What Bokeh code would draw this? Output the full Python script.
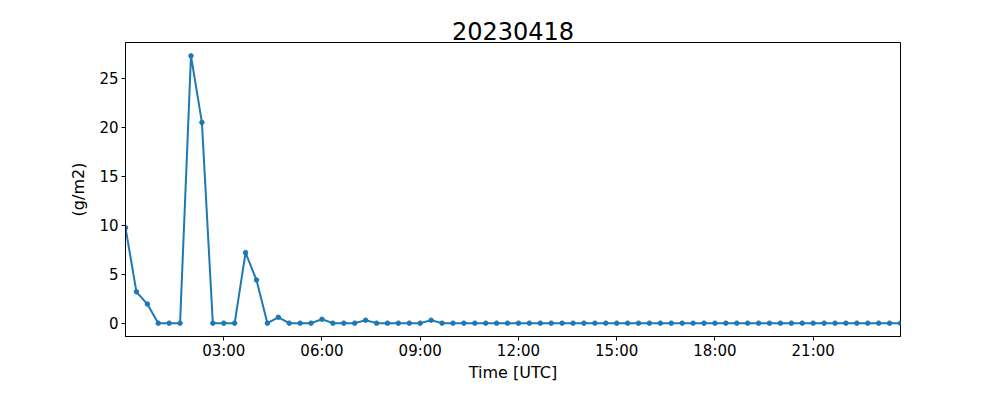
import pandas as pd
from bokeh.plotting import figure
from bokeh.models import Range1d, FixedTicker, DatetimeTickFormatter
from bokeh.embed import file_html
from bokeh.resources import INLINE

# ---- data ----
times = pd.date_range("2023-04-18 00:00", periods=72, freq="20min")
values = [
    9.75, 3.2, 1.95, 0.0, 0.0, 0.0, 27.3, 20.5, 0.0, 0.0, 0.0, 7.2,
    4.4, 0.0, 0.6, 0.0, 0.0, 0.0, 0.4, 0.0, 0.0, 0.0, 0.3, 0.0,
    0.0, 0.0, 0.0, 0.0, 0.3, 0.0, 0.0, 0.0, 0.0, 0.0, 0.0, 0.0,
    0.0, 0.0, 0.0, 0.0, 0.0, 0.0, 0.0, 0.0, 0.0, 0.0, 0.0, 0.0,
    0.0, 0.0, 0.0, 0.0, 0.0, 0.0, 0.0, 0.0, 0.0, 0.0, 0.0, 0.0,
    0.0, 0.0, 0.0, 0.0, 0.0, 0.0, 0.0, 0.0, 0.0, 0.0, 0.0, 0.0,
]
tick_labels = ["03:00", "06:00", "09:00", "12:00", "15:00", "18:00", "21:00"]
y_ticks = [0, 5, 10, 15, 20, 25]
title_text = "20230418"
x_label = "Time [UTC]"
y_label = "(g/m2)"

FONT = "DejaVu Sans"
BLUE = "#1f77b4"

vmax = max(values)
vmin = min(values)
pad = (vmax - vmin) * 0.05

p = figure(
    width=984, height=384,
    x_axis_type="datetime",
    output_backend="svg", toolbar_location=None,
    x_range=Range1d(times[0], times[-1]),
    y_range=Range1d(vmin - pad, vmax + pad),
    min_border_left=125, min_border_right=84,
    min_border_top=42, min_border_bottom=40,
)
p.title.text = title_text
p.title.align = "center"
p.title.text_font = FONT
p.title.text_font_size = "24px"
p.title.text_font_style = "normal"
p.title.text_color = "black"
p.title.offset = 0
p.title.standoff = 6

p.line(times, values, line_color=BLUE, line_width=2)
p.scatter(times, values, size=4.5, fill_color=BLUE, line_color=BLUE)

base = pd.Timestamp("2023-04-18 00:00")
tick_ms = [(base + pd.Timedelta(hours=int(t[:2]))).value / 1e6 for t in tick_labels]
p.xaxis.ticker = FixedTicker(ticks=tick_ms)
p.xaxis.formatter = DatetimeTickFormatter(hours="%H:%M", days="%H:%M", minutes="%H:%M", hourmin="%H:%M")
p.yaxis.ticker = FixedTicker(ticks=y_ticks)

p.xaxis.axis_label = x_label
p.yaxis.axis_label = y_label

for ax in (p.xaxis, p.yaxis):
    ax.axis_label_text_font = FONT
    ax.axis_label_text_font_size = "16px"
    ax.axis_label_text_font_style = "normal"
    ax.axis_label_text_color = "black"
    ax.major_label_text_font = FONT
    ax.major_label_text_font_size = "15px"
    ax.major_label_text_color = "black"
    ax.axis_line_color = "black"
    ax.major_tick_line_color = "black"
    ax.major_tick_in = 0
    ax.major_tick_out = 4
    ax.minor_tick_line_color = None

p.xaxis.major_label_standoff = 1
p.xaxis.axis_label_standoff = 0
p.yaxis.major_label_standoff = 3
p.yaxis.axis_label_standoff = 8

p.xgrid.grid_line_color = None
p.ygrid.grid_line_color = None
p.outline_line_color = "black"
p.outline_line_alpha = 1
p.outline_line_width = 1
p.background_fill_color = "white"
p.border_fill_color = "white"

open("out.html", "w").write(file_html(p, INLINE))
